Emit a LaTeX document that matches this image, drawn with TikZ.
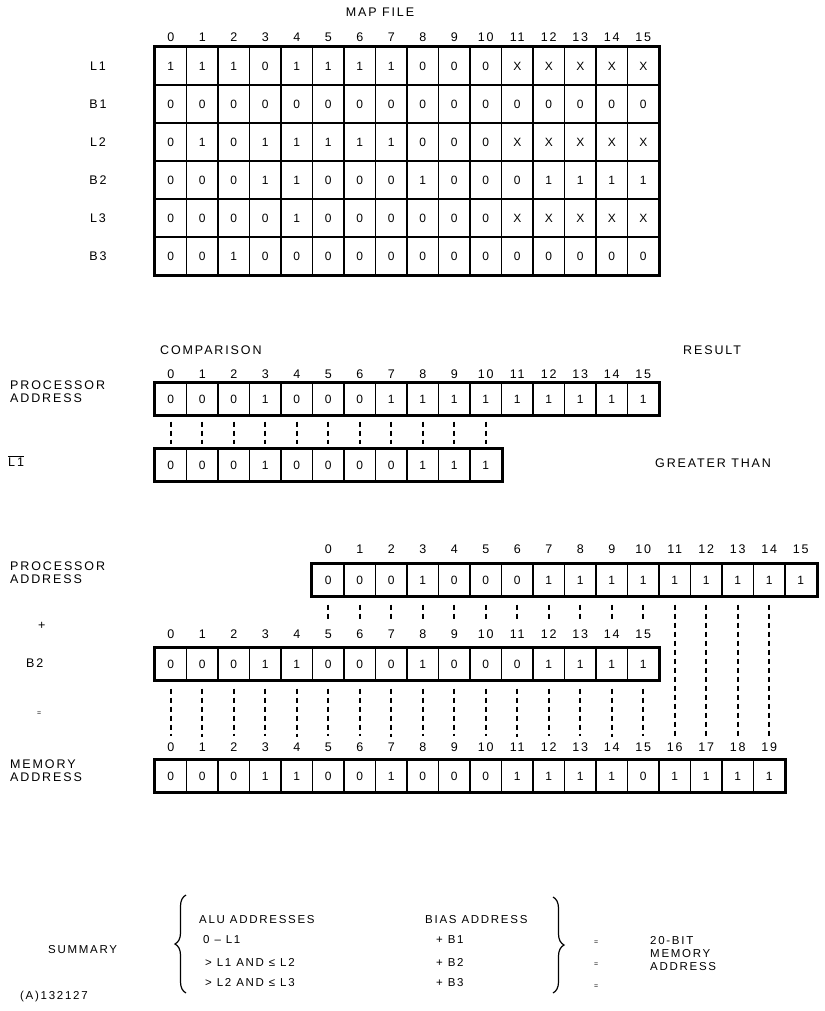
\documentclass[tikz,border=0pt]{standalone}
\usepackage{fontspec}
\setmainfont{Liberation Sans}[LetterSpace=15]
\usetikzlibrary{positioning,decorations.pathreplacing}
\tikzset{
 cell/.style={draw,line width=1.3pt,minimum width=31.5pt,minimum height=38pt,
             inner sep=0pt,font=\fontsize{12}{13}\selectfont},
 bitcell/.style={cell,minimum height=32pt},
 frame/.style={line width=2.8pt},
 idx/.style={font=\fontsize{12.5}{13}\selectfont,inner sep=1pt},
 lbl/.style={font=\fontsize{12.5}{13}\selectfont,anchor=west,inner sep=0pt,align=left},
 note/.style={font=\fontsize{11.5}{13}\selectfont,anchor=west,inner sep=0pt,align=left},
 tiny/.style={font=\fontsize{7}{8}\selectfont,anchor=west,inner sep=0pt},
 dashline/.style={line width=1.7pt,dash pattern=on 5pt off 4pt},
 brace/.style={decorate,decoration={brace,amplitude=11pt},line width=1.2pt}
}
\begin{document}
\begin{tikzpicture}[x=1pt,y=-1pt]
\fill[white] (0,0) rectangle (824,1011);
\useasboundingbox (0,0) rectangle (824,1011);

% map file
\node[idx] (title) at (380,12) {MAP FILE};
\foreach \i in {0,...,15}
  \node[idx] (mn-\i) at (170.75+31.5*\i,37) {\i};
\foreach \v [count=\i from 0] in {1,1,1,0,1,1,1,1,0,0,0,X,X,X,X,X}
  \node[cell] (mL1-\i) at (170.75+31.5*\i,66) {\v};
\foreach \v [count=\i from 0] in {0,0,0,0,0,0,0,0,0,0,0,0,0,0,0,0}
  \node[cell] (mB1-\i) at (170.75+31.5*\i,104) {\v};
\foreach \v [count=\i from 0] in {0,1,0,1,1,1,1,1,0,0,0,X,X,X,X,X}
  \node[cell] (mL2-\i) at (170.75+31.5*\i,142) {\v};
\foreach \v [count=\i from 0] in {0,0,0,1,1,0,0,0,1,0,0,0,1,1,1,1}
  \node[cell] (mB2-\i) at (170.75+31.5*\i,180) {\v};
\foreach \v [count=\i from 0] in {0,0,0,0,1,0,0,0,0,0,0,X,X,X,X,X}
  \node[cell] (mL3-\i) at (170.75+31.5*\i,218) {\v};
\foreach \v [count=\i from 0] in {0,0,1,0,0,0,0,0,0,0,0,0,0,0,0,0}
  \node[cell] (mB3-\i) at (170.75+31.5*\i,256) {\v};
\draw[frame] (mL1-0.north west) rectangle (mB3-15.south east);
\foreach \n/\y in {L1/66,B1/104,L2/142,B2/180,L3/218,B3/256}
  \node[idx] (row\n) at (98,\y) {\n};

% comparison
\node[lbl] (cmp) at (160,350) {COMPARISON};
\node[lbl] (res) at (683,350) {RESULT};
\foreach \i in {0,...,15}
  \node[idx] (pan-\i) at (170.75+31.5*\i,374) {\i};
\foreach \v [count=\i from 0] in {0,0,0,1,0,0,0,1,1,1,1,1,1,1,1,1}
  \node[bitcell] (pa-\i) at (170.75+31.5*\i,399) {\v};
\draw[frame] (pa-0.north west) rectangle (pa-15.south east);
\foreach \v [count=\i from 0] in {0,0,0,1,0,0,0,0,1,1,1}
  \node[bitcell] (nl-\i) at (170.75+31.5*\i,465) {\v};
\draw[frame] (nl-0.north west) rectangle (nl-10.south east);
\foreach \i in {0,...,10}
  \draw[dashline,shorten <=6pt,shorten >=4pt] (pa-\i) -- (nl-\i);
\node[lbl] (paname) at (10,392) {PROCESSOR\\ADDRESS};
\node[lbl] (nlname) at (8,461) {$\overline{\mbox{L1}}$};
\node[lbl] (gt) at (655,463) {GREATER THAN};

% addition
\foreach \i in {0,...,15}
  \node[idx] (pbn-\i) at (328.25+31.5*\i,549) {\i};
\foreach \v [count=\i from 0] in {0,0,0,1,0,0,0,1,1,1,1,1,1,1,1,1}
  \node[bitcell] (pb-\i) at (328.25+31.5*\i,580) {\v};
\draw[frame] (pb-0.north west) rectangle (pb-15.south east);
\node[lbl] (pbname) at (10,573) {PROCESSOR\\ADDRESS};
\node[lbl] (plus) at (38,626) {+};
\foreach \i in {0,...,15}
  \node[idx] (bbn-\i) at (170.75+31.5*\i,634) {\i};
\foreach \v [count=\i from 0] in {0,0,0,1,1,0,0,0,1,0,0,0,1,1,1,1}
  \node[bitcell] (bb-\i) at (170.75+31.5*\i,664) {\v};
\draw[frame] (bb-0.north west) rectangle (bb-15.south east);
\node[lbl] (bbname) at (26,663) {B2};
\node[tiny] (eq) at (37,714) {=};
\foreach \i in {0,...,19}
  \node[idx] (man-\i) at (170.75+31.5*\i,747) {\i};
\foreach \v [count=\i from 0] in {0,0,0,1,1,0,0,1,0,0,0,1,1,1,1,0,1,1,1,1}
  \node[bitcell] (ma-\i) at (170.75+31.5*\i,776) {\v};
\draw[frame] (ma-0.north west) rectangle (ma-19.south east);
\node[lbl] (maname) at (10,771) {MEMORY\\ADDRESS};
\foreach \i [evaluate=\i as \j using int(\i+5)] in {0,...,10}
  \draw[dashline,shorten <=8pt,shorten >=7pt] (pb-\i) -- (bbn-\j);
\foreach \i [evaluate=\i as \j using int(\i+5)] in {11,...,14}
  \draw[dashline,shorten <=8pt,shorten >=5pt] (pb-\i) -- (man-\j);
\foreach \i in {0,...,15}
  \draw[dashline,shorten <=8pt,shorten >=5pt] (bb-\i) -- (man-\i);

% summary
\node[note] (sum) at (48,950) {SUMMARY};
\draw[brace] (186,993) -- (186,895);
\node[note] (alu) at (199,920) {ALU ADDRESSES};
\node[note] (alu1) at (203,940) {0 – L1};
\node[note] (alu2) at (205,962) {> L1 AND ≤ L2};
\node[note] (alu3) at (205,983) {> L2 AND ≤ L3};
\node[note] (bias) at (425,920) {BIAS ADDRESS};
\node[note] (bias1) at (436,940) {+ B1};
\node[note] (bias2) at (436,962) {+ B2};
\node[note] (bias3) at (436,983) {+ B3};
\draw[brace] (553,897) -- (553,993);
\foreach \y in {943,965,987}
  \node[tiny] at (594,\y) {=};
\node[note] (mem20) at (650,954) {20-BIT\\MEMORY\\ADDRESS};
\node[note] (fig) at (20,997) {(A)132127};
\end{tikzpicture}
\end{document}
